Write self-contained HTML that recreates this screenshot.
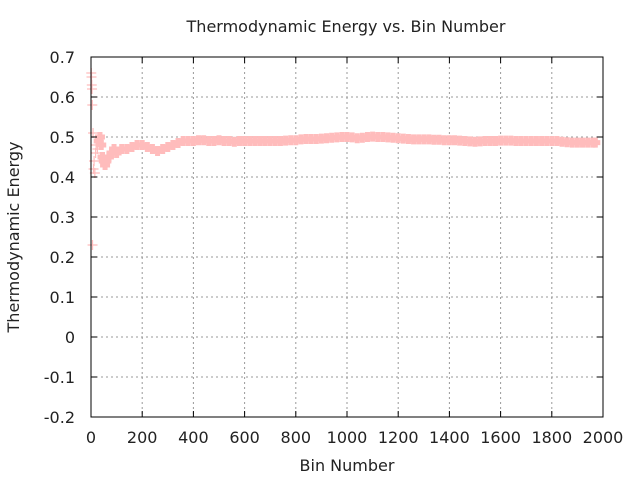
<!DOCTYPE html>
<html><head><meta charset="utf-8"><style>
body{margin:0;background:#fff;}
svg text{font-family:"DejaVu Sans","Liberation Sans",sans-serif;font-size:16px;fill:#222;}
</style></head><body>
<svg id="chart" width="640" height="480" xmlns="http://www.w3.org/2000/svg">
<rect width="640" height="480" fill="#fff"/>
<g id="grid"></g>
<g id="series"></g>
<rect x="91" y="57" width="512" height="360" fill="none" stroke="#000" stroke-width="1"/>
<g id="ticks"></g>
<text x="346" y="32" text-anchor="middle">Thermodynamic Energy vs. Bin Number</text>
<text x="347" y="471" text-anchor="middle">Bin Number</text>
<text transform="translate(19,237) rotate(-90)" text-anchor="middle">Thermodynamic Energy</text>
</svg>
<script>
const xTicks=[0,200,400,600,800,1000,1200,1400,1600,1800,2000];
const yTicks=[-0.2,-0.1,0,0.1,0.2,0.3,0.4,0.5,0.6,0.7];
const yTickLabels=["-0.2","-0.1","0","0.1","0.2","0.3","0.4","0.5","0.6","0.7"];
const bins=[1,2,3,4,5,6,8,10,12,15,18,20,25,30,35,40,45,50,55,60,70,80,90,100,120,140,160,180,200,220,240,260,280,300,320,340,360,380,400,420,440,460,480,500,520,540,560,580,600,620,640,660,680,700,720,740,760,780,800,820,840,860,880,900,920,940,960,980,1000,1020,1040,1060,1080,1100,1120,1140,1160,1180,1200,1220,1240,1260,1280,1300,1320,1340,1360,1380,1400,1420,1440,1460,1480,1500,1520,1540,1560,1580,1600,1620,1640,1660,1680,1700,1720,1740,1760,1780,1800,1820,1840,1860,1880,1900,1920,1940,1960,1970];
const energy=[0.66,0.65,0.63,0.62,0.58,0.23,0.51,0.42,0.44,0.41,0.46,0.48,0.47,0.49,0.50,0.48,0.45,0.44,0.43,0.44,0.45,0.46,0.47,0.46,0.47,0.47,0.475,0.48,0.48,0.475,0.47,0.465,0.47,0.475,0.48,0.485,0.49,0.49,0.49,0.492,0.492,0.49,0.49,0.492,0.49,0.49,0.488,0.49,0.49,0.49,0.49,0.49,0.49,0.49,0.49,0.49,0.491,0.492,0.492,0.494,0.495,0.495,0.495,0.496,0.497,0.498,0.499,0.50,0.50,0.499,0.497,0.498,0.50,0.501,0.50,0.50,0.499,0.498,0.497,0.496,0.495,0.494,0.494,0.494,0.494,0.493,0.493,0.492,0.492,0.492,0.491,0.49,0.489,0.488,0.489,0.49,0.49,0.49,0.491,0.491,0.491,0.49,0.49,0.49,0.49,0.49,0.49,0.49,0.49,0.49,0.488,0.487,0.486,0.486,0.486,0.486,0.486,0.486];
const NS="http://www.w3.org/2000/svg";
const X0=91,X1=603,Y0=417,Y1=57;
function sx(v){return X0+(v-0)/(2000-0)*(X1-X0);}
function sy(v){return Y0-(v-(-0.2))/(0.7-(-0.2))*(Y0-Y1);}
function mk(tag,attrs){const e=document.createElementNS(NS,tag);for(const k in attrs)e.setAttribute(k,attrs[k]);return e;}
const grid=document.getElementById('grid'),ticks=document.getElementById('ticks'),series=document.getElementById('series');
xTicks.forEach((t,i)=>{
  const x=sx(t);
  if(i>0&&i<xTicks.length-1){const g=mk('line',{x1:x,x2:x,y1:Y1,y2:Y0,stroke:'#999','stroke-dasharray':'2,3'});
  
  
  grid.appendChild(g);}
  const a=mk('line',{x1:x,x2:x,y1:Y0,y2:Y0-6,stroke:'#000'});
  
  
  ticks.appendChild(a);
  const b=mk('line',{x1:x,x2:x,y1:Y1,y2:Y1+6,stroke:'#000'});
  
  
  ticks.appendChild(b);
  const l=mk('text',{x:x,y:443,'text-anchor':'middle'});l.textContent=t;
  
  
  ticks.appendChild(l);
});
yTicks.forEach((t,i)=>{
  const y=sy(t);
  if(i>0&&i<yTicks.length-1){const g=mk('line',{x1:X0,x2:X1,y1:y,y2:y,stroke:'#999','stroke-dasharray':'2,3'});
  
  
  grid.appendChild(g);}
  const a=mk('line',{x1:X0,x2:X0+6,y1:y,y2:y,stroke:'#000'});
  
  
  ticks.appendChild(a);
  const b=mk('line',{x1:X1,x2:X1-6,y1:y,y2:y,stroke:'#000'});
  
  
  ticks.appendChild(b);
  const l=mk('text',{x:75,y:y+6,'text-anchor':'end'});l.textContent=yTickLabels[i];
  
  
  ticks.appendChild(l);
});
bins.forEach((b,i)=>{
  const x=sx(b),y=sy(energy[i]);
  const p=mk('path',{d:`M${x-5},${y}H${x+5}M${x},${y-5}V${y+5}`,stroke:'#ffbcbc','stroke-width':(b>=30?'5':'1.2'),fill:'none'});
  
  
  series.appendChild(p);
});
</script>
</body></html>
